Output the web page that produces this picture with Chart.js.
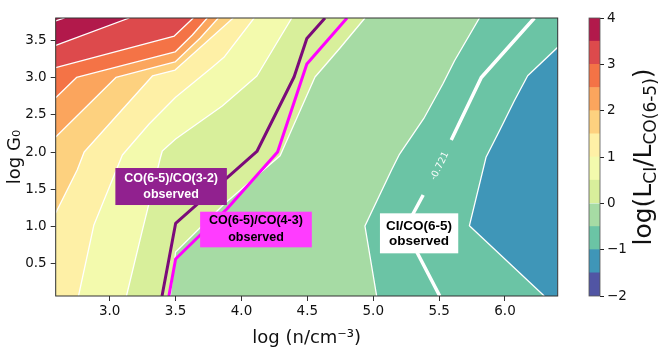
<!DOCTYPE html>
<html><head><meta charset="utf-8">
<script src="https://cdn.jsdelivr.net/npm/chart.js@4.4.1/dist/chart.umd.min.js"></script>
<style>
html,body{margin:0;padding:0;background:#fff;}
#wrap{position:relative;width:667px;height:354px;overflow:hidden;}
canvas{position:absolute;left:0;top:0;}
</style></head><body>
<div id="wrap"><canvas id="main" width="667" height="354"></canvas><canvas id="cbar" width="667" height="354"></canvas></div>
<script>
// ---------- axes ----------
const X_MIN = 2.59, X_MAX = 6.4, Y_MIN = 0.07, Y_MAX = 3.8;
const X_TICKS = [3.0, 3.5, 4.0, 4.5, 5.0, 5.5, 6.0];
const Y_TICKS = [0.5, 1.0, 1.5, 2.0, 2.5, 3.0, 3.5];
const CBAR_TICKS = [-2, -1, 0, 1, 2, 3, 4];
// ---------- colour levels of log(L_CI/L_CO(6-5)) ----------
const LEVELS = [-2, -1.5, -1, -0.5, 0, 0.5, 1, 1.5, 2, 2.5, 3, 3.5, 4];
const BAND_COLORS = ['#5155a4', '#3f96b8', '#6bc4a5', '#a6dba4', '#d8ef9b', '#f3faad',
                     '#fef0a6', '#fdd17f', '#fba55d', '#f47346', '#dd4a4c', '#b2194b'];
// ---------- contour lines (log n, log G0) ----------
const C_M1  = [[6.298,0.07],[5.73,1.013],[5.856,1.931],[5.958,2.288],[6.071,2.69],[6.172,3.026],[6.4,3.407]];
const C_M05 = [[5.026,0.07],[4.937,1.009],[5.139,1.761],[5.2,1.975],[5.389,2.468],[5.528,2.914],[5.617,3.227],[5.806,3.8]];
const C_0   = [[3.46,0.07],[3.5,0.66],[3.869,1.304],[4.293,1.952],[4.558,3.008],[4.748,3.397],[4.937,3.8]];
const C_05  = [[3.127,0.07],[3.248,0.955],[3.384,1.922],[3.399,2.015],[3.5,2.176],[3.854,2.619],[4.117,3.022],[4.382,3.8]];
const C_1   = [[2.763,0.07],[2.88,1.023],[3.096,1.962],[3.299,2.378],[3.5,2.736],[3.778,3.139],[3.867,3.273],[4.096,3.8]];
const C_15  = [[2.59,1.184],[2.753,1.761],[2.806,2.002],[3.324,3.022],[3.496,3.102],[3.937,3.8]];
const C_2   = [[2.59,2.203],[3.047,3.002],[3.496,3.21],[3.687,3.532],[3.824,3.8]];
const C_25  = [[2.59,2.731],[2.748,3.002],[3.496,3.344],[3.627,3.572],[3.74,3.8]];
const C_3   = [[2.59,3.133],[3.49,3.558],[3.634,3.8]];
const C_35  = [[2.59,3.434],[3.149,3.8]];
const C_4   = [[2.59,3.76],[2.657,3.8]];
// ---------- observed ratios ----------
const OBS_CO32 = [[4.634,3.8],[4.496,3.525],[4.399,3.008],[4.117,2.009],[3.5,1.043],[3.397,0.07]];
const OBS_CO43 = [[4.801,3.8],[4.496,3.183],[4.274,2.002],[3.889,1.237],[3.5,0.566],[3.449,0.07]];
const OBS_CI   = [[6.223,3.8],[5.82,3.002],[5.592,2.163],null,[5.379,1.425],[5.24,0.969],[5.505,0.07]];
const OBS_CI_LEVEL = '-0.721';
const OBS_CI_LABEL_AT = [5.505, 1.814];
// ---------- annotation boxes ----------
const BOX_TEXT = [['CO(6-5)/CO(3-2)','observed'], ['CO(6-5)/CO(4-3)','observed'], ['CI/CO(6-5)','observed']];
const BOX_AT   = [[3.466,1.539], [4.110,0.962], [5.348,0.911]];

Chart.defaults.font.family = "'DejaVu Sans', sans-serif";
Chart.defaults.color = '#111';

const toPts = arr => arr.map(p => p ? {x:p[0], y:p[1]} : {x:null, y:null});
const RING = ['T','TL','L','BL','B','BR','R','TR'];
const CORNER = {TL:[X_MIN,Y_MAX], BL:[X_MIN,Y_MIN], BR:[X_MAX,Y_MIN], TR:[X_MAX,Y_MAX]};
function edgeOf(p){
  const e = 1e-6;
  if (Math.abs(p[1]-Y_MAX) < e) return 'T';
  if (Math.abs(p[0]-X_MIN) < e) return 'L';
  if (Math.abs(p[1]-Y_MIN) < e) return 'B';
  return 'R';
}
function regionAbove(c){
  const pts = c.slice();
  let i = RING.indexOf(edgeOf(c[c.length-1]));
  const target = edgeOf(c[0]);
  while (RING[i] !== target){ i = (i+1)%8; if (CORNER[RING[i]]) pts.push(CORNER[RING[i]]); }
  return toPts(pts);
}
const bandColor = L => BAND_COLORS[LEVELS.indexOf(L)];

const CONTOURS = [[-1,C_M1],[-0.5,C_M05],[0,C_0],[0.5,C_05],[1,C_1],[1.5,C_15],[2,C_2],[2.5,C_25],[3,C_3],[3.5,C_35]];
const paint = [];
const base = {showLine:true, pointRadius:0, pointHoverRadius:0, tension:0, clip:0, spanGaps:false};
paint.push(Object.assign({}, base, {data: toPts([[X_MIN,Y_MIN],[X_MAX,Y_MIN],[X_MAX,Y_MAX],[X_MIN,Y_MAX]]),
  fill:'shape', backgroundColor: bandColor(-1.5), borderWidth:0}));
for (const [L, c] of CONTOURS){
  paint.push(Object.assign({}, base, {data: regionAbove(c), fill:'shape', backgroundColor: bandColor(L), borderWidth:0}));
}
for (const [L, c] of CONTOURS.concat([[4, C_4]])){
  paint.push(Object.assign({}, base, {data: toPts(c), fill:false, borderColor:'#ffffff', borderWidth:1.3, borderJoinStyle:'round'}));
}
paint.push(Object.assign({}, base, {data: toPts(OBS_CI), fill:false, borderColor:'#ffffff', borderWidth:3.5, borderJoinStyle:'round'}));
paint.push(Object.assign({}, base, {data: toPts(OBS_CO32), fill:false, borderColor:'#7b0b7a', borderWidth:3, borderJoinStyle:'round'}));
paint.push(Object.assign({}, base, {data: toPts(OBS_CO43), fill:false, borderColor:'#ff00ff', borderWidth:3, borderJoinStyle:'round'}));
paint.forEach((d,i) => d.order = paint.length - i);

const BOX_STYLE = [
  {w:111.5, h:37, bg:'#91218f', fg:'#ffffff', font:"bold 12.5px 'Liberation Sans', Arial, sans-serif", dy:8},
  {w:111.7, h:35.6, bg:'#ff3cff', fg:'#000000', font:"bold 12.5px 'Liberation Sans', Arial, sans-serif", dy:8.5},
  {w:78.3, h:40, bg:'#ffffff', fg:'#000000', font:"bold 13.5px 'Liberation Sans', Arial, sans-serif", dy:7.5}
];

const annotPlugin = {
  id:'annot',
  afterDatasetsDraw(chart){
    const {ctx, chartArea:a, scales:{x, y}} = chart;
    ctx.save();
    ctx.strokeStyle = '#333'; ctx.lineWidth = 1;
    ctx.strokeRect(a.left, a.top, a.right-a.left, a.bottom-a.top);
    ctx.beginPath(); ctx.rect(a.left, a.top, a.right-a.left, a.bottom-a.top); ctx.clip();
    ctx.save();
    ctx.translate(x.getPixelForValue(OBS_CI_LABEL_AT[0]), y.getPixelForValue(OBS_CI_LABEL_AT[1]));
    ctx.rotate(-64*Math.PI/180);
    ctx.font = "9.5px 'DejaVu Sans'"; ctx.fillStyle = 'rgba(255,255,255,0.95)';
    ctx.textAlign = 'center'; ctx.textBaseline = 'middle';
    ctx.fillText(OBS_CI_LEVEL, 0, 0);
    ctx.restore();
    BOX_TEXT.forEach((lines, i) => {
      const s = BOX_STYLE[i];
      const cx = x.getPixelForValue(BOX_AT[i][0]), cy = y.getPixelForValue(BOX_AT[i][1]);
      ctx.fillStyle = s.bg;
      ctx.fillRect(cx - s.w/2, cy - s.h/2, s.w, s.h);
      ctx.fillStyle = s.fg; ctx.font = s.font; ctx.textAlign = 'center'; ctx.textBaseline = 'middle';
      ctx.fillText(lines[0], cx, cy - s.dy);
      ctx.fillText(lines[1], cx, cy + s.dy);
    });
    ctx.restore();
  }
};

new Chart(document.getElementById('main'), {
  type:'scatter',
  data:{datasets: paint},
  options:{
    responsive:false, animation:false, events:[],
    layout:{padding:{left:0, right:109.3, top:18, bottom:0}},
    plugins:{legend:{display:false}, tooltip:{enabled:false}},
    scales:{
      x:{type:'linear', min:X_MIN, max:X_MAX,
        afterBuildTicks: s => { s.ticks = X_TICKS.map(v => ({value:v})); },
        afterFit: s => { s.height = 58; },
        grid:{drawOnChartArea:false, drawTicks:true, tickLength:5, color:'#333'},
        border:{display:false},
        ticks:{font:{size:13.5}, color:'#111', padding:2, maxRotation:0, autoSkip:false, callback: v => Number(v).toFixed(1)},
        title:{display:true, text:'log (n/cm⁻³)', font:{size:18}, color:'#111', padding:{top:0, bottom:5}}},
      y:{type:'linear', min:Y_MIN, max:Y_MAX,
        afterBuildTicks: s => { s.ticks = Y_TICKS.map(v => ({value:v})); },
        afterFit: s => { s.width = 55.7; },
        grid:{drawOnChartArea:false, drawTicks:true, tickLength:5, color:'#333'},
        border:{display:false},
        ticks:{font:{size:13.5}, color:'#111', padding:4, autoSkip:false, callback: v => Number(v).toFixed(1)},
        title:{display:true, text:'log G₀', font:{size:18}, color:'#111', padding:{top:4.5, bottom:0}}}
    }
  },
  plugins:[annotPlugin]
});

// ---------- colour bar ----------
const cbarPlugin = {
  id:'cbarLabel',
  afterDraw(chart){
    const {ctx, chartArea:a} = chart;
    ctx.save();
    ctx.strokeStyle = '#555'; ctx.lineWidth = 0.8;
    ctx.strokeRect(a.left, a.top, a.right-a.left, a.bottom-a.top);
    const parts = [['log(L',25,0],['CI',17,5],['/L',25,0],['CO(6-5)',17,5],[')',25,0]];
    let total = 0;
    for (const [t,s] of parts){ ctx.font = s + "px 'DejaVu Sans'"; total += ctx.measureText(t).width; }
    ctx.translate(651, (a.top + a.bottom)/2);
    ctx.rotate(-Math.PI/2);
    ctx.fillStyle = '#111'; ctx.textAlign = 'left'; ctx.textBaseline = 'alphabetic';
    let u = -total/2;
    for (const [t,s,dv] of parts){ ctx.font = s + "px 'DejaVu Sans'"; ctx.fillText(t, u, dv); u += ctx.measureText(t).width; }
    ctx.restore();
  }
};
new Chart(document.getElementById('cbar'), {
  type:'bar',
  data:{labels:[''], datasets: BAND_COLORS.map((c,i) => ({data:[[LEVELS[i], LEVELS[i+1]]], backgroundColor:c, borderWidth:0,
        barPercentage:1, categoryPercentage:1, grouped:false}))},
  options:{
    responsive:false, animation:false, events:[],
    layout:{padding:{left:589, right:27, top:18, bottom:58}},
    plugins:{legend:{display:false}, tooltip:{enabled:false}},
    scales:{
      x:{display:false},
      y:{position:'right', min:-2, max:4,
        afterBuildTicks: s => { s.ticks = CBAR_TICKS.map(v => ({value:v})); },
        afterFit: s => { s.width = 40; },
        grid:{drawOnChartArea:false, drawTicks:true, tickLength:4, color:'#222'},
        border:{display:false},
        ticks:{font:{size:13.5}, color:'#111', padding:3, callback: v => String(v).replace('-', '\u2212')}}
    }
  },
  plugins:[cbarPlugin]
});
</script></body></html>
